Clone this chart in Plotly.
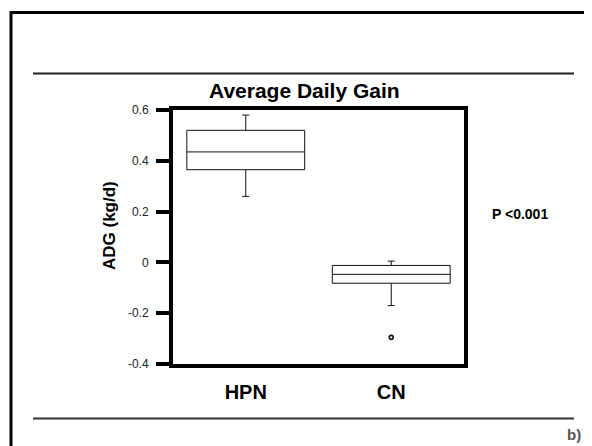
import plotly.graph_objects as go

# ---- data ----
categories = ["HPN", "CN"]
lower_whisker = [0.26, -0.17]
q1_vals = [0.365, -0.082]
median_vals = [0.435, -0.047]
q3_vals = [0.52, -0.012]
upper_whisker = [0.58, 0.005]
outlier_cat = ["CN"]
outlier_vals = [-0.295]
y_ticks = [-0.4, -0.2, 0, 0.2, 0.4, 0.6]
y_tick_text = ["-0.4", "-0.2", "0", "0.2", "0.4", "0.6"]

OFF = 8  # page body margin of the html page
W, H = 592 - OFF, 446 - OFF
# plot area in screenshot px, converted to figure px
L, R, T, B = 173 - OFF, 464 - OFF, 110 - OFF, 364 - OFF


def px_x(px):
    return (px - OFF - L) / (R - L)


def px_y(py):
    return (B - (py - OFF)) / (B - T)


fig = go.Figure()
fig.add_trace(go.Box(
    x=categories, q1=q1_vals, median=median_vals, q3=q3_vals,
    lowerfence=lower_whisker, upperfence=upper_whisker,
    boxpoints=False, width=0.81, whiskerwidth=0.06,
    fillcolor="white", line=dict(color="#111111", width=1),
    showlegend=False, hoverinfo="skip",
))
fig.add_trace(go.Scatter(
    x=outlier_cat, y=outlier_vals, mode="markers",
    marker=dict(symbol="circle-open", size=4, color="#111111",
                line=dict(width=1.6, color="#111111")),
    showlegend=False, hoverinfo="skip",
))

fig.update_layout(
    width=W, height=H,
    margin=dict(l=L, r=W - R, t=T, b=H - B, pad=0),
    paper_bgcolor="white", plot_bgcolor="white",
    font=dict(family="Liberation Sans, Arial, sans-serif", color="black"),
    showlegend=False,
)
fig.update_xaxes(
    type="category", categoryorder="array", categoryarray=categories,
    range=[-0.5, 1.5],
    showline=True, linewidth=4, linecolor="black", mirror=True,
    ticks="", showgrid=False, zeroline=False,
    tickfont=dict(size=20, family="Liberation Sans, Arial, sans-serif",
                  color="black", weight="bold"),
    ticklabelstandoff=7,
)
fig.update_yaxes(
    range=[-0.4, 0.6], tickvals=y_ticks, ticktext=y_tick_text,
    showline=True, linewidth=4, linecolor="black", mirror=True,
    ticks="outside", ticklen=13, tickwidth=4, tickcolor="black",
    showgrid=False, zeroline=False,
    tickfont=dict(size=12, color="#222222"),
    ticklabelstandoff=5,
)

shapes = [
    # slide frame
    dict(type="rect", xref="paper", yref="paper",
         x0=px_x(11), x1=px_x(620), y0=px_y(12.5), y1=px_y(470),
         line=dict(color="black", width=3), fillcolor="rgba(0,0,0,0)", layer="above"),
    # top rule
    dict(type="line", xref="paper", yref="paper",
         x0=px_x(33), x1=px_x(574), y0=px_y(73.5), y1=px_y(73.5),
         line=dict(color="#222222", width=2)),
    # bottom rule
    dict(type="line", xref="paper", yref="paper",
         x0=px_x(33), x1=px_x(574), y0=px_y(418.5), y1=px_y(418.5),
         line=dict(color="#333333", width=2)),
]
fig.update_layout(shapes=shapes)

annotations = [
    dict(text="Average Daily Gain", x=px_x(304), y=px_y(91), xref="paper", yref="paper",
         showarrow=False, xanchor="center", yanchor="middle",
         font=dict(size=21, color="black", weight="bold")),
    dict(text="ADG (kg/d)", x=px_x(109), y=px_y(226), xref="paper", yref="paper",
         showarrow=False, xanchor="center", yanchor="middle", textangle=-90,
         font=dict(size=17, color="black", weight="bold")),
    dict(text="P &lt;0.001", x=px_x(490), y=px_y(213.5), xref="paper", yref="paper",
         showarrow=False, xanchor="left", yanchor="middle",
         font=dict(size=14, color="black", weight="bold")),
    dict(text="b)", x=px_x(583), y=px_y(434), xref="paper", yref="paper",
         showarrow=False, xanchor="right", yanchor="middle",
         font=dict(size=15, color="#555555", weight="bold")),
]
fig.update_layout(annotations=annotations)

fig.write_html("out.html")
